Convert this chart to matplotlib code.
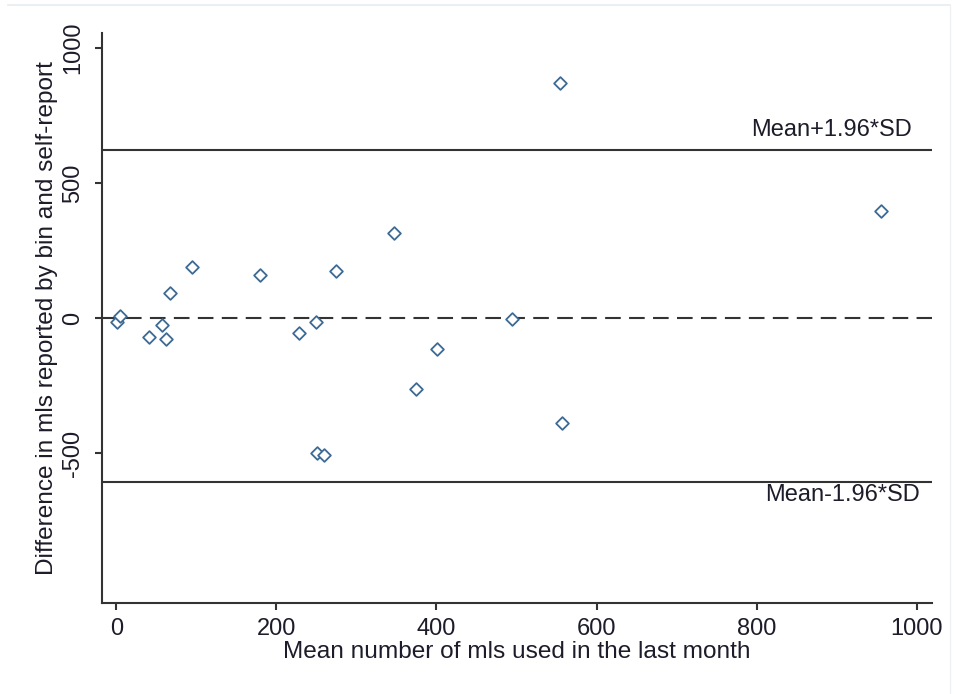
import matplotlib
matplotlib.use("Agg")
import matplotlib.pyplot as plt
from matplotlib.lines import Line2D

# 数据：均值 与 差值
mean_mls = [1, 4, 41, 57, 62, 67, 94, 179, 228, 249, 251, 259, 274, 347, 374, 401,
            494, 554, 557, 956]
diff_mls = [-14, 9, -69, -23, -78, 94, 189, 162, -54, -14, -499, -507, 175, 316, -262,
            -114, -1, 871, -388, 396]

upper_loa = 622
lower_loa = -607
ref_line = 0

xticks = [0, 200, 400, 600, 800, 1000]
yticks = [-500, 0, 500, 1000]

plt.rcParams['font.family'] = ['Liberation Sans', 'DejaVu Sans']
txt_col = '#1c1c2a'
line_col = '#333333'

fig = plt.figure(figsize=(9.56, 6.94), dpi=100)
ax = fig.add_axes([0.1067, 0.1311, 0.868, 0.8213])

ax.scatter(mean_mls, diff_mls, marker='D', s=42, facecolors='white',
           edgecolors='#3d6a94', linewidths=1.3, zorder=3)

ax.axhline(upper_loa, color=line_col, lw=1.5)
ax.axhline(lower_loa, color=line_col, lw=1.5)
ax.axhline(ref_line, color=line_col, lw=1.5, linestyle=(0, (7.5, 4)))

ax.annotate('Mean+1.96*SD', xy=(994, upper_loa), xytext=(0, 7), textcoords='offset points',
            ha='right', va='bottom', fontsize=17, color=txt_col)
ax.annotate('Mean-1.96*SD', xy=(1004, lower_loa), xytext=(0, -1.5), textcoords='offset points',
            ha='right', va='top', fontsize=17, color=txt_col)

ax.set_xlim(-18, 1019)
ax.set_ylim(-1054, 1056)
ax.set_xticks(xticks)
ax.set_yticks(yticks)
ax.set_yticklabels([str(v) for v in yticks], rotation=90, va='center')

ax.spines['top'].set_visible(False)
ax.spines['right'].set_visible(False)
for s in ['left', 'bottom']:
    ax.spines[s].set_color(line_col)
    ax.spines[s].set_linewidth(1.5)

ax.tick_params(axis='both', length=5, width=1.5, color=line_col, labelsize=17,
               labelcolor=txt_col)
ax.tick_params(axis='x', pad=6)
ax.tick_params(axis='y', pad=8)

ax.set_xlabel('Mean number of mls used in the last month', fontsize=17.6, color=txt_col,
              labelpad=0.5)
ax.set_ylabel('Difference in mls reported by bin and self-report', fontsize=17.6,
              color=txt_col, labelpad=3)

# 截图边框
fig.add_artist(Line2D([0.008, 0.994], [0.993, 0.993], color='#e6ecf2', lw=1.2))
fig.add_artist(Line2D([0.994, 0.994], [0.0, 0.993], color='#eef1f4', lw=1.0))

fig.savefig('out.png', dpi=100)
